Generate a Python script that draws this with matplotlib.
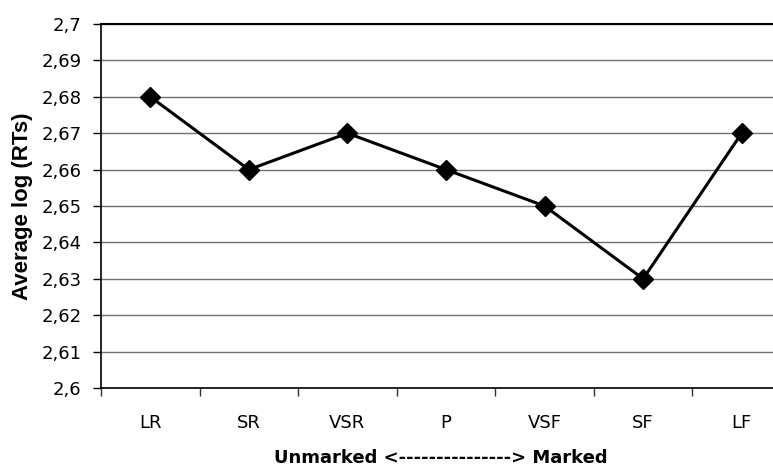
import matplotlib as mpl
mpl.use('Agg')
import matplotlib.pyplot as plt
from matplotlib.ticker import FuncFormatter, MultipleLocator

conditions = ['LR', 'SR', 'VSR', 'P', 'VSF', 'SF', 'LF']
avg_log_rt = [2.68, 2.66, 2.67, 2.66, 2.65, 2.63, 2.67]

plt.rcParams['font.family'] = ['DejaVu Sans']

fig = plt.figure(figsize=(7.73, 4.67), dpi=100)
# plot area runs past the right edge, as in the cropped original
ax = fig.add_axes([101 / 773, 1 - 388 / 467, 690 / 773, 364 / 467])

x = list(range(len(conditions)))
ax.plot(x, avg_log_rt, color='black', lw=2.2, marker='D', ms=10,
        markerfacecolor='black', zorder=3, clip_on=False)

ax.set_xlim(-0.5, len(conditions) - 0.5)
ax.set_ylim(2.6, 2.7)
ax.yaxis.set_major_locator(MultipleLocator(0.01))
ax.yaxis.set_major_formatter(FuncFormatter(
    lambda v, p: ('%.2f' % v).rstrip('0').rstrip('.').replace('.', ',')))

ax.set_xticks(x)
ax.set_xticklabels(conditions)
ax.set_xticks([i + 0.5 for i in range(-1, len(conditions))], minor=True)
ax.tick_params(axis='x', which='major', length=0, pad=19, labelsize=13)
ax.tick_params(axis='x', which='minor', length=6, width=1, color='#333333')
ax.tick_params(axis='y', length=6, width=1, labelsize=13, pad=8)

ax.grid(axis='y', color='#707070', lw=1)
ax.set_axisbelow(True)
ax.spines['right'].set_visible(False)
ax.spines['top'].set_linewidth(1.5)
ax.spines['left'].set_linewidth(1.2)
ax.spines['bottom'].set_linewidth(1.2)

fig.text(441 / 773, 1 - 458 / 467, 'Unmarked <---------------> Marked',
         ha='center', va='center', fontsize=13, fontweight='bold')
fig.text(23 / 773, 1 - 206 / 467, 'Average log (RTs)', rotation=90,
         ha='center', va='center', fontsize=16, fontweight='bold',
         family=['Liberation Sans', 'DejaVu Sans'])

fig.savefig('out.png')
